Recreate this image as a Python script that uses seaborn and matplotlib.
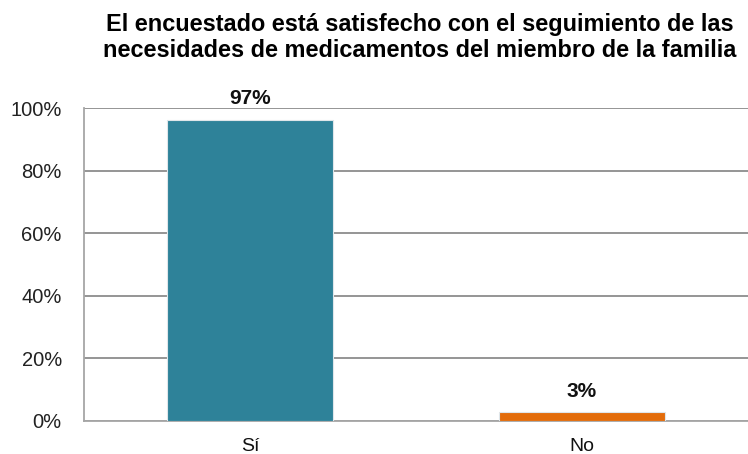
import matplotlib
matplotlib.use("Agg")
import matplotlib.pyplot as plt
import seaborn as sns
import pandas as pd
from matplotlib.ticker import PercentFormatter, FixedLocator

categories = ["Sí", "No"]
values = [0.963, 0.029]
labels = ["97%", "3%"]
colors = ["#2E8299", "#E36C0A"]

sns.set_style("white")
plt.rcParams['font.family'] = ['Liberation Sans', 'DejaVu Sans']

df = pd.DataFrame({"resp": categories, "pct": values})

fig = plt.figure(figsize=(7.48, 4.54), dpi=100)
ax = fig.add_axes([0.1123, 0.0727, 0.8877, 0.6894])

sns.barplot(data=df, x="resp", y="pct", hue="resp", palette=colors,
            saturation=1, width=0.5, legend=False, ax=ax, zorder=3,
            edgecolor="#dfe6ea", linewidth=0.8)

ax.set_ylim(0, 1.0)
ax.set_xlim(-0.5, 1.5)
ax.yaxis.set_major_locator(FixedLocator([0, 0.2, 0.4, 0.6, 0.8, 1.0]))
ax.yaxis.set_major_formatter(PercentFormatter(1.0, decimals=0))
ax.grid(axis="y", color="#8c8c8c", linewidth=1.3, zorder=0)
ax.set_axisbelow(True)

for sp in ["top", "right"]:
    ax.spines[sp].set_visible(False)
for sp in ["left", "bottom"]:
    ax.spines[sp].set_color("#a6a6a6")
    ax.spines[sp].set_linewidth(1.3)

ax.tick_params(axis="y", length=5, width=1.3, color="#a6a6a6",
               labelsize=14.5, labelcolor="#222222", pad=11)
ax.tick_params(axis="x", which="major", length=0, labelsize=14, pad=12,
               labelcolor="#111111")
ax.set_xticks([0.5], minor=True)
ax.tick_params(axis="x", which="minor", length=5, width=1.3, color="#a6a6a6")
ax.set_xlabel("")
ax.set_ylabel("")

for i, (v, lab) in enumerate(zip(values, labels)):
    ax.annotate(lab, (i, v), xytext=(0, 8), textcoords="offset points",
                ha="center", va="bottom", fontsize=15,
                fontweight="bold", color="#111111", annotation_clip=False)

fig.text(0.561, 0.972, "El encuestado está satisfecho con el seguimiento de las\n"
         "necesidades de medicamentos del miembro de la familia",
         ha="center", va="top", fontsize=16.9, fontweight="bold",
         linespacing=1.2, color="black")

fig.savefig("out.png", dpi=100)
